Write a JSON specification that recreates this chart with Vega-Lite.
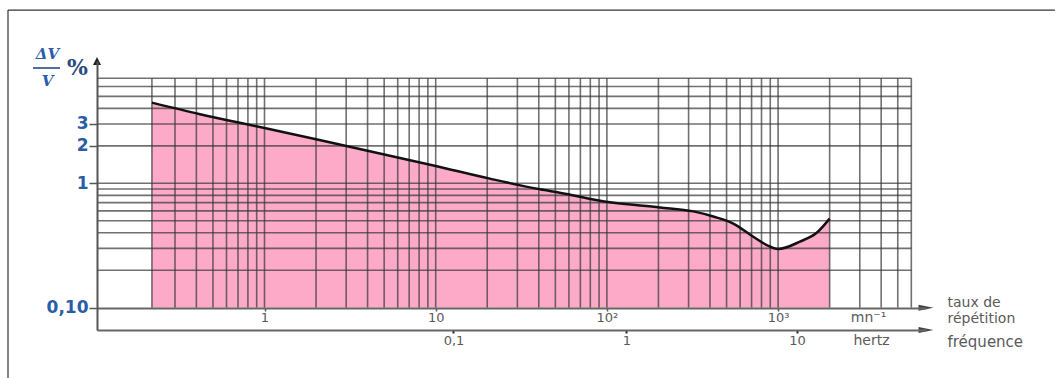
{
  "$schema": "https://vega.github.io/schema/vega-lite/v6.json",
  "width": 829,
  "height": 269,
  "autosize": "none",
  "padding": {"left": 97, "top": 61, "right": 129, "bottom": 48},
  "background": "white",
  "config": {"view": {"stroke": null}, "axis": {"labelFont": "DejaVu Sans", "titleFont": "DejaVu Sans"}},
  "datasets": {
    "curve": [
      {"r": 0.22, "v": 4.45}, {"r": 0.42, "v": 3.59}, {"r": 1, "v": 2.78}, {"r": 2, "v": 2.26},
      {"r": 10, "v": 1.38}, {"r": 20.7, "v": 1.09}, {"r": 40.7, "v": 0.895}, {"r": 53, "v": 0.84},
      {"r": 104, "v": 0.703}, {"r": 204, "v": 0.64}, {"r": 320, "v": 0.595}, {"r": 418, "v": 0.541},
      {"r": 547, "v": 0.475}, {"r": 716, "v": 0.372}, {"r": 858, "v": 0.319}, {"r": 1000, "v": 0.296},
      {"r": 1342, "v": 0.34}, {"r": 1680, "v": 0.40}, {"r": 2000, "v": 0.52}
    ],
    "gridx": [
      {"gx": 0.22}, {"gx": 0.3}, {"gx": 0.4}, {"gx": 0.5}, {"gx": 0.6}, {"gx": 0.7}, {"gx": 0.8}, {"gx": 0.9},
      {"gx": 1}, {"gx": 2}, {"gx": 3}, {"gx": 4}, {"gx": 5}, {"gx": 6}, {"gx": 7}, {"gx": 8}, {"gx": 9},
      {"gx": 10}, {"gx": 20}, {"gx": 30}, {"gx": 40}, {"gx": 50}, {"gx": 60}, {"gx": 70}, {"gx": 80}, {"gx": 90},
      {"gx": 100}, {"gx": 200}, {"gx": 300}, {"gx": 400}, {"gx": 500}, {"gx": 600}, {"gx": 700}, {"gx": 800}, {"gx": 900},
      {"gx": 1000}, {"gx": 2000}, {"gx": 3000}, {"gx": 4000}, {"gx": 5000}, {"gx": 6000}
    ],
    "gridy": [
      {"gy": 0.2}, {"gy": 0.3}, {"gy": 0.4}, {"gy": 0.5}, {"gy": 0.6}, {"gy": 0.7}, {"gy": 0.8}, {"gy": 0.9},
      {"gy": 1}, {"gy": 2}, {"gy": 3}, {"gy": 4}, {"gy": 5}, {"gy": 6}, {"gy": 7}
    ]
  },
  "resolve": {"scale": {"x": "shared", "y": "shared"}, "axis": {"x": "independent", "y": "independent"}},
  "layer": [
    {
      "data": {"name": "curve"},
      "mark": {"type": "area", "color": "#fdaac8", "interpolate": "monotone"},
      "encoding": {
        "x": {"field": "r", "type": "quantitative", "scale": {"type": "log", "domain": [0.1051, 7310], "nice": false},
          "axis": {"orient": "bottom", "offset": -22, "values": [1, 10, 100, 1000],
            "labelExpr": "datum.value == 100 ? '10²' : datum.value == 1000 ? '10³' : datum.label",
            "grid": false, "domainColor": "#666", "domainWidth": 2, "tickColor": "#555", "tickSize": 3, "tickWidth": 1.5,
            "labelColor": "#5a5a5a", "labelFontSize": 13, "labelPadding": 0, "labelFlush": false, "labelOverlap": false,
            "title": "mn⁻¹", "titleX": 771, "titleY": 9, "titleAlign": "center", "titleBaseline": "middle",
            "titleColor": "#5a5a5a", "titleFontSize": 14, "titleFontWeight": "normal", "zindex": 1}},
        "y": {"field": "v", "type": "quantitative", "scale": {"type": "log", "domain": [0.0662, 9.62], "nice": false},
          "axis": {"orient": "left", "values": [0.1, 1, 2, 3],
            "labelExpr": "datum.value < 0.5 ? '0,10' : datum.label",
            "grid": false, "domainColor": "#555", "domainWidth": 2, "tickColor": "#555", "tickSize": 8, "tickWidth": 1.5,
            "labelColor": "#2a5ca8", "labelFontSize": 17, "labelFontWeight": "bold", "labelPadding": 1,
            "labelFlush": false, "labelOverlap": false,
            "title": ["ΔV", "V"], "titleAngle": 0, "titleX": -50, "titleY": -8, "titleAlign": "center",
            "titleBaseline": "middle", "titleLineHeight": 27, "titleFont": "DejaVu Serif", "titleFontStyle": "italic",
            "titleFontSize": 15, "titleFontWeight": "bold", "titleColor": "#2a5ca8", "zindex": 1}},
        "y2": {"datum": 0.1}
      }
    },
    {
      "data": {"name": "gridy"},
      "mark": {"type": "rule", "color": "#3a3a3a", "opacity": 0.72, "strokeWidth": 1.6},
      "encoding": {
        "y": {"field": "gy", "type": "quantitative", "scale": {"type": "log", "domain": [0.0662, 9.62], "nice": false},
          "axis": {"orient": "left", "domain": false, "ticks": false, "labels": false, "grid": false,
            "title": "fréquence", "titleAngle": 0, "titleX": 850, "titleY": 280, "titleAlign": "left",
            "titleBaseline": "middle", "titleColor": "#5a5a5a", "titleFontSize": 15, "titleFontWeight": "normal"}},
        "x": {"datum": 0.1051, "scale": {"type": "log", "domain": [0.1051, 7310], "nice": false}, "axis": null},
        "x2": {"datum": 6000}
      }
    },
    {
      "data": {"name": "gridx"},
      "mark": {"type": "rule", "color": "#3a3a3a", "opacity": 0.72, "strokeWidth": 1.6},
      "encoding": {
        "x": {"field": "gx", "type": "quantitative", "scale": {"type": "log", "domain": [0.1051, 7310], "nice": false},
          "axis": {"orient": "bottom", "offset": 0, "values": [12.7, 130, 1290],
            "labelExpr": "datum.value < 20 ? '0,1' : datum.value < 200 ? '1' : '10'",
            "grid": false, "domainColor": "#666", "domainWidth": 2, "tickColor": "#222", "tickSize": 3, "tickWidth": 2,
            "labelColor": "#5a5a5a", "labelFontSize": 13, "labelPadding": 1, "labelFlush": false, "labelOverlap": false,
            "title": "hertz", "titleX": 774, "titleY": 10, "titleAlign": "center", "titleBaseline": "middle",
            "titleColor": "#5a5a5a", "titleFontSize": 14, "titleFontWeight": "normal", "zindex": 1}},
        "y": {"datum": 0.1, "scale": {"type": "log", "domain": [0.0662, 9.62], "nice": false}, "axis": null},
        "y2": {"datum": 7}
      }
    },
    {
      "data": {"name": "curve"},
      "mark": {"type": "line", "color": "#111111", "strokeWidth": 2.5, "interpolate": "monotone"},
      "encoding": {
        "x": {"field": "r", "type": "quantitative", "scale": {"type": "log", "domain": [0.1051, 7310], "nice": false},
          "axis": {"orient": "bottom", "offset": -22, "domain": false, "ticks": false, "labels": false, "grid": false,
            "title": ["taux de", "répétition"], "titleX": 850, "titleY": -6, "titleAlign": "left", "titleBaseline": "middle",
            "titleLineHeight": 16, "titleColor": "#5a5a5a", "titleFontSize": 14, "titleFontWeight": "normal"}},
        "y": {"field": "v", "type": "quantitative", "scale": {"type": "log", "domain": [0.0662, 9.62], "nice": false},
          "axis": {"orient": "left", "domain": false, "ticks": false, "labels": false, "grid": false,
            "title": "%", "titleAngle": 0, "titleX": -20, "titleY": 6, "titleAlign": "center", "titleBaseline": "middle",
            "titleFont": "DejaVu Serif", "titleFontSize": 22, "titleFontWeight": "bold", "titleColor": "#2a4a80"}}
      }
    },
    {
      "data": {"values": [{}]},
      "mark": {"type": "rule", "color": "#1d3d75", "strokeWidth": 1.5},
      "encoding": {
        "x": {"datum": 0.0444, "scale": {"type": "log", "domain": [0.1051, 7310], "nice": false}, "axis": null},
        "x2": {"datum": 0.0639},
        "y": {"datum": 8.45, "scale": {"type": "log", "domain": [0.0662, 9.62], "nice": false}, "axis": null}
      }
    },
    {
      "data": {"values": [{}]},
      "mark": {"type": "point", "shape": "M-1,-0.4L1,0L-1,0.4Z", "size": 225, "filled": true, "color": "#444", "opacity": 1},
      "encoding": {
        "x": {"datum": 7310, "scale": {"type": "log", "domain": [0.1051, 7310], "nice": false}, "axis": null},
        "y": {"datum": 0.1, "scale": {"type": "log", "domain": [0.0662, 9.62], "nice": false}, "axis": null}
      }
    },
    {
      "data": {"values": [{}]},
      "mark": {"type": "point", "shape": "M-1,-0.4L1,0L-1,0.4Z", "size": 225, "filled": true, "color": "#444", "opacity": 1},
      "encoding": {
        "x": {"datum": 7310, "scale": {"type": "log", "domain": [0.1051, 7310], "nice": false}, "axis": null},
        "y": {"datum": 0.0662, "scale": {"type": "log", "domain": [0.0662, 9.62], "nice": false}, "axis": null}
      }
    },
    {
      "data": {"values": [{}]},
      "mark": {"type": "point", "shape": "M-1,1L0,-1L1,1Z", "size": 64, "filled": true, "color": "#222", "opacity": 1},
      "encoding": {
        "x": {"datum": 0.1051, "scale": {"type": "log", "domain": [0.1051, 7310], "nice": false}, "axis": null},
        "y": {"datum": 9.62, "scale": {"type": "log", "domain": [0.0662, 9.62], "nice": false}, "axis": null}
      }
    },
    {
      "data": {"values": [{}]},
      "mark": {"type": "rule", "color": "#333", "strokeWidth": 1.2},
      "encoding": {
        "x": {"datum": 0.03175, "scale": {"type": "log", "domain": [0.1051, 7310], "nice": false}, "axis": null},
        "y": {"datum": 24.7, "scale": {"type": "log", "domain": [0.0662, 9.62], "nice": false}, "axis": null},
        "y2": {"datum": 0.0262}
      }
    },
    {
      "data": {"values": [{}]},
      "mark": {"type": "rule", "color": "#333", "strokeWidth": 1.2},
      "encoding": {
        "x": {"datum": 0.03175, "scale": {"type": "log", "domain": [0.1051, 7310], "nice": false}, "axis": null},
        "x2": {"datum": 41400},
        "y": {"datum": 24.7, "scale": {"type": "log", "domain": [0.0662, 9.62], "nice": false}, "axis": null}
      }
    }
  ]
}
